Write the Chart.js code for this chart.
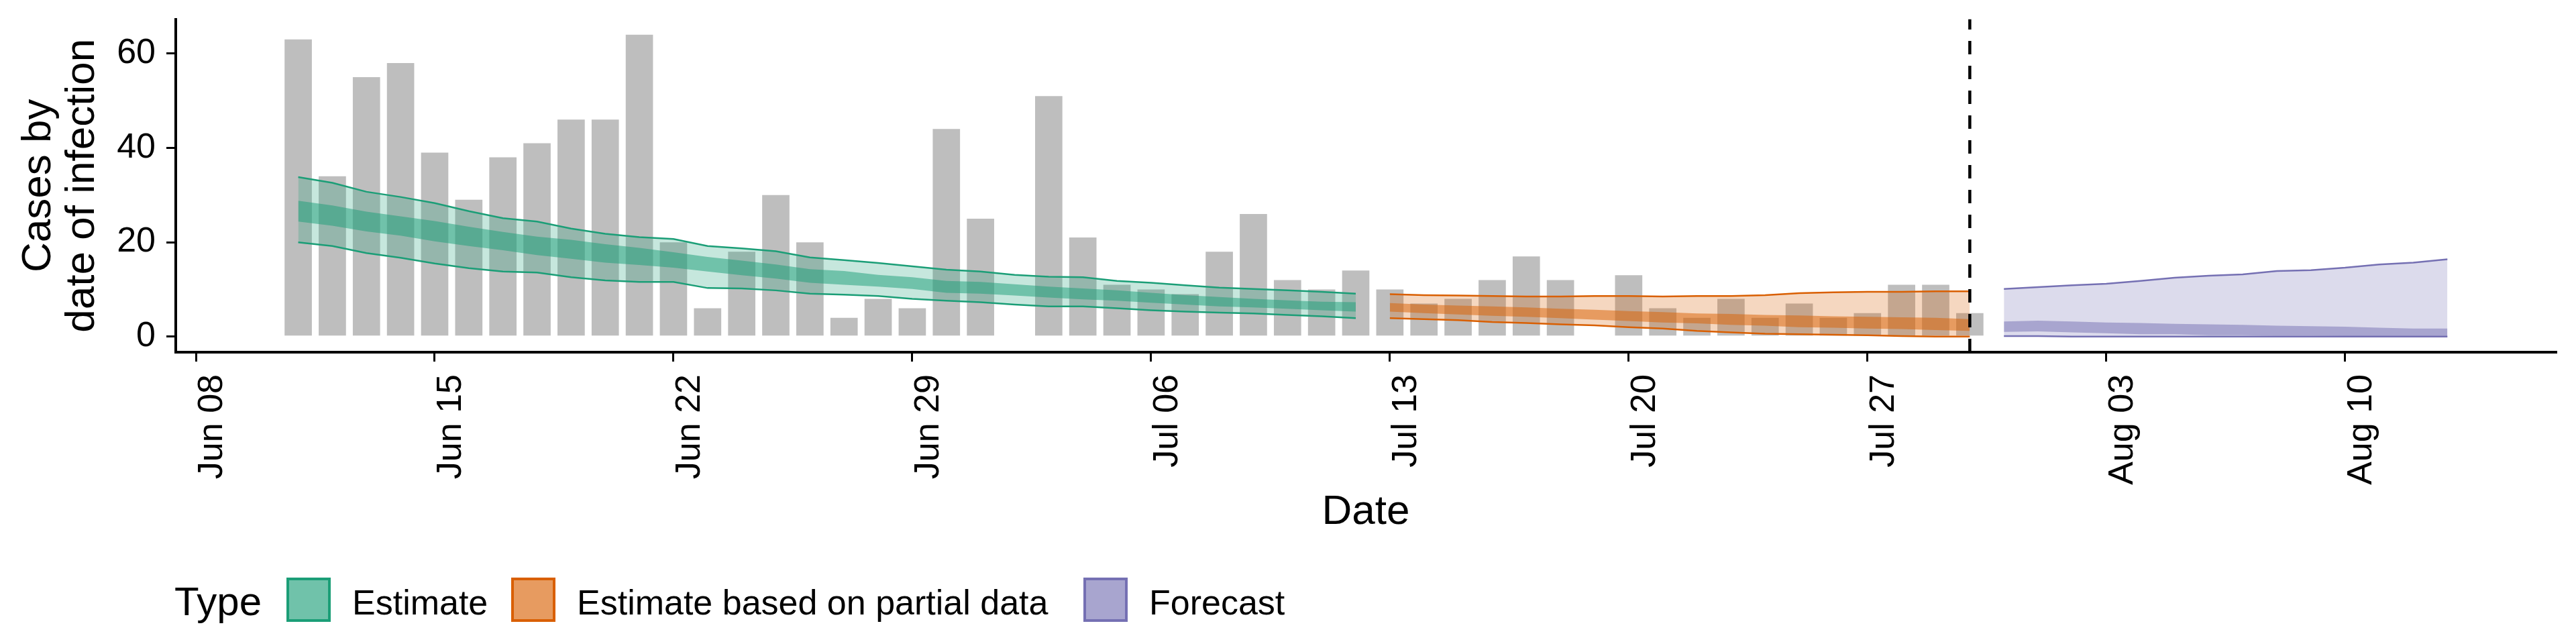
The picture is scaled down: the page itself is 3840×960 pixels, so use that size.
<!DOCTYPE html>
<html>
<head>
<meta charset="utf-8">
<title>Cases by date of infection</title>
<script src="https://cdn.jsdelivr.net/npm/chart.js@4.4.1/dist/chart.umd.min.js"></script>
<style>
  html, body { margin: 0; padding: 0; background: #fff; }
  #wrap { width: 3840px; height: 960px; }
</style>
</head>
<body>
<div id="wrap"><canvas id="infection-chart" width="3840" height="960"></canvas></div>
<script>
// --values
var caseStart = '2020-06-11';
var caseCounts = [63, 34, 55, 58, 39, 29, 38, 41, 46, 46,
  64, 20, 6, 18, 30, 20, 4, 8, 6, 44,
  25, 0, 51, 21, 11, 10, 9, 18, 26, 12,
  10, 14, 10, 7, 8, 12, 17, 12, 0, 13,
  6, 4, 8, 4, 7, 4, 5, 11, 11, 5];

// estimate (Jun 11 - Jul 12)
var estimateStart = '2020-06-11';
var estimateUpper90 = [33.8, 32.6, 30.7, 29.6, 28.3, 26.6, 25.1, 24.4, 22.9, 21.8, 21.1, 20.7, 19.2, 18.7, 18.1, 16.8,
  16.2, 15.6, 14.9, 14.2, 13.8, 13.1, 12.7, 12.6, 11.8, 11.4, 10.9, 10.4, 10.1, 9.8, 9.5, 9.1];
var estimateLower90 = [20.0, 19.2, 17.7, 16.7, 15.5, 14.5, 13.8, 13.6, 12.6, 11.9, 11.6, 11.6, 10.3, 10.2, 9.8, 9.1,
  8.9, 8.6, 8.0, 7.6, 7.3, 6.8, 6.4, 6.4, 6.0, 5.6, 5.3, 5.1, 4.9, 4.6, 4.3, 3.9];
var estimateUpper50 = [28.8, 27.8, 26.5, 25.5, 24.5, 23.3, 22.2, 21.2, 20.5, 19.6, 18.8, 17.9, 16.9, 16.1, 15.3, 14.3,
  13.9, 13.1, 12.6, 11.8, 11.6, 11.1, 10.6, 10.2, 9.8, 9.3, 8.8, 8.4, 8.0, 7.7, 7.4, 7.3];
var estimateLower50 = [24.4, 23.5, 22.3, 21.4, 20.2, 19.2, 18.3, 17.3, 16.5, 15.7, 15.2, 14.6, 13.8, 13.0, 12.3, 11.4,
  11.0, 10.6, 10.1, 9.3, 9.1, 8.7, 8.3, 7.9, 7.6, 7.2, 6.8, 6.4, 6.2, 5.9, 5.6, 5.3];

// estimate based on partial data (Jul 13 - Jul 30)
var partialStart = '2020-07-13';
var partialUpper90 = [9.0, 8.8, 8.7, 8.6, 8.5, 8.5, 8.6, 8.6, 8.5, 8.6, 8.6, 8.8, 9.2, 9.4, 9.5, 9.5, 9.6, 9.6];
var partialLower90 = [3.9, 3.7, 3.5, 3.1, 2.9, 2.6, 2.4, 2.0, 1.7, 1.2, 0.9, 0.6, 0.5, 0.4, 0.3, 0.1, 0.0, 0.0];
var partialUpper50 = [7.1, 6.8, 6.6, 6.4, 6.2, 5.9, 5.7, 5.4, 5.2, 4.9, 4.8, 4.6, 4.5, 4.3, 4.2, 4.1, 4.0, 3.7];
var partialLower50 = [5.3, 5.0, 4.7, 4.4, 4.2, 3.9, 3.6, 3.3, 3.0, 2.8, 2.5, 2.3, 2.0, 1.9, 1.7, 1.6, 1.4, 1.2];

// forecast (Jul 31 - Aug 13)
var forecastStart = '2020-07-31';
var forecastUpper90 = [10.1, 10.5, 10.9, 11.2, 11.8, 12.5, 12.9, 13.2, 13.9, 14.1, 14.6, 15.3, 15.7, 16.4];
var forecastLower90 = [0.1, 0.1, 0.0, 0.0, 0.0, 0.0, 0.0, 0.0, 0.0, 0.0, 0.0, 0.0, 0.0, 0.0];
var forecastUpper50 = [3.2, 3.4, 3.2, 3.0, 2.9, 2.7, 2.6, 2.5, 2.3, 2.2, 2.1, 1.9, 1.7, 1.7];
var forecastLower50 = [1.0, 1.1, 0.9, 0.7, 0.5, 0.5, 0.3, 0.3, 0.2, 0.2, 0.1, 0.0, 0.0, 0.0];

var cutoffDate = '2020-07-30';
var tickDates = ['2020-06-08', '2020-06-15', '2020-06-22', '2020-06-29', '2020-07-06',
  '2020-07-13', '2020-07-20', '2020-07-27', '2020-08-03', '2020-08-10'];
var tickLabels = ['Jun 08', 'Jun 15', 'Jun 22', 'Jun 29', 'Jul 06', 'Jul 13', 'Jul 20', 'Jul 27', 'Aug 03', 'Aug 10'];
var typeLabels = ['Estimate', 'Estimate based on partial data', 'Forecast'];

(function() {
  var FONT = '"Liberation Sans", Arial, Helvetica, sans-serif';
  var typeColors = ['#1b9e77', '#d95f02', '#7570b3'];
  var X_MIN = -0.59, X_MAX = 69.18; // days from Jun 08, panel edges
  var Y_MIN = -3.3, Y_MAX = 67.3;

  var origin = Date.parse(tickDates[0]);
  function dayOf(s) {
    return (Date.parse(s) - origin) / 86400000;
  }
  function series(start, values) {
    var d0 = dayOf(start);
    return values.map(function(v, i) { return {x: d0 + i, y: v}; });
  }
  function rgba(hex, a) {
    var n = parseInt(hex.slice(1), 16);
    return 'rgba(' + (n >> 16) + ',' + ((n >> 8) & 255) + ',' + (n & 255) + ',' + a + ')';
  }
  // outer 90% ribbon with edge lines, inner 50% ribbon on top
  function ribbon(start, lower90, upper90, lower50, upper50, color) {
    var line = {type: 'line', pointRadius: 0, tension: 0};
    return [
      Object.assign({data: series(start, upper90), borderColor: color, borderWidth: 2.5, backgroundColor: rgba(color, 0.25), fill: '+1', order: 20}, line),
      Object.assign({data: series(start, lower90), borderColor: color, borderWidth: 2.5, fill: false, order: 20}, line),
      Object.assign({data: series(start, upper50), borderColor: 'rgba(0,0,0,0)', borderWidth: 1, backgroundColor: rgba(color, 0.5), fill: '+1', order: 10}, line),
      Object.assign({data: series(start, lower50), borderColor: 'rgba(0,0,0,0)', borderWidth: 1, fill: false, order: 10}, line)
    ];
  }

  var datasets = [{
    type: 'bar',
    data: series(caseStart, caseCounts),
    backgroundColor: '#bebebe',
    borderWidth: 0,
    barPercentage: 1,
    categoryPercentage: 0.8,
    order: 50
  }];
  datasets = datasets
    .concat(ribbon(estimateStart, estimateLower90, estimateUpper90, estimateLower50, estimateUpper50, typeColors[0]))
    .concat(ribbon(partialStart, partialLower90, partialUpper90, partialLower50, partialUpper50, typeColors[1]))
    .concat(ribbon(forecastStart, forecastLower90, forecastUpper90, forecastLower50, forecastUpper50, typeColors[2]));
  datasets.push({
    type: 'line',
    data: [{x: dayOf(cutoffDate), y: Y_MIN}, {x: dayOf(cutoffDate), y: Y_MAX}],
    borderColor: '#000',
    borderWidth: 4.5,
    borderDash: [20, 17],
    pointRadius: 0,
    fill: false,
    order: 0
  });

  // ggplot-style legend in one row: title, then keys
  var typeLegend = {
    id: 'typeLegend',
    afterDraw: function(chart) {
      var ctx = chart.ctx;
      var keyX = [427, 762, 1615], keyY = 861, size = 66;
      ctx.save();
      ctx.textBaseline = 'alphabetic';
      ctx.fillStyle = '#000';
      ctx.font = '60px ' + FONT;
      ctx.fillText('Type', 260, 917);
      ctx.font = '52px ' + FONT;
      typeLabels.forEach(function(label, i) {
        var x = keyX[i];
        ctx.fillStyle = rgba(typeColors[i], 0.25);
        ctx.fillRect(x, keyY, size, size);
        ctx.fillStyle = rgba(typeColors[i], 0.5);
        ctx.fillRect(x, keyY, size, size);
        ctx.strokeStyle = typeColors[i];
        ctx.lineWidth = 4;
        ctx.strokeRect(x + 2, keyY + 2, size - 4, size - 4);
        ctx.fillStyle = '#000';
        ctx.fillText(label, x + size + 32, 916);
      });
      ctx.restore();
    }
  };

  var tickDays = tickDates.map(dayOf);

  new Chart(document.getElementById('infection-chart'), {
    type: 'bar',
    data: {datasets: datasets},
    plugins: [typeLegend],
    options: {
      responsive: false,
      devicePixelRatio: 1,
      animation: false,
      layout: {padding: {left: 0, top: 28.5, right: 30, bottom: 0}},
      plugins: {
        legend: {display: false},
        tooltip: {enabled: false}
      },
      scales: {
        x: {
          type: 'linear',
          min: X_MIN,
          max: X_MAX,
          offset: false,
          border: {display: true, color: '#000', width: 4},
          grid: {display: true, offset: false, drawOnChartArea: false, drawTicks: true, tickLength: 14, color: '#000', lineWidth: 3},
          afterBuildTicks: function(scale) {
            scale.ticks = tickDays.map(function(v) { return {value: v}; });
          },
          afterFit: function(scale) {
            scale.height = 435;
            scale.paddingLeft = 0;
            scale.paddingRight = 0;
          },
          ticks: {
            autoSkip: false,
            minRotation: 90,
            maxRotation: 90,
            padding: 19,
            labelOffset: 25,
            color: '#000',
            font: {family: FONT, size: 52},
            callback: function(value) {
              var i = tickDays.indexOf(value);
              return i >= 0 ? tickLabels[i] : '';
            }
          },
          title: {
            display: true,
            text: 'Date',
            color: '#000',
            font: {family: FONT, size: 62, lineHeight: 1.05},
            padding: {top: 0, bottom: 164}
          }
        },
        y: {
          min: Y_MIN,
          max: Y_MAX,
          border: {display: true, color: '#000', width: 4},
          grid: {display: true, drawOnChartArea: false, drawTicks: true, tickLength: 14, color: '#000', lineWidth: 3},
          afterFit: function(scale) {
            scale.width = 262;
            scale.paddingTop = 0;
            scale.paddingBottom = 0;
          },
          ticks: {
            stepSize: 20,
            includeBounds: false,
            padding: 16,
            color: '#000',
            font: {family: FONT, size: 52}
          },
          title: {
            display: true,
            text: ['Cases by', 'date of infection'],
            color: '#000',
            font: {family: FONT, size: 62, lineHeight: 1.05},
            padding: {top: 25, bottom: 0}
          }
        }
      }
    }
  });
}());
</script>
</body>
</html>
